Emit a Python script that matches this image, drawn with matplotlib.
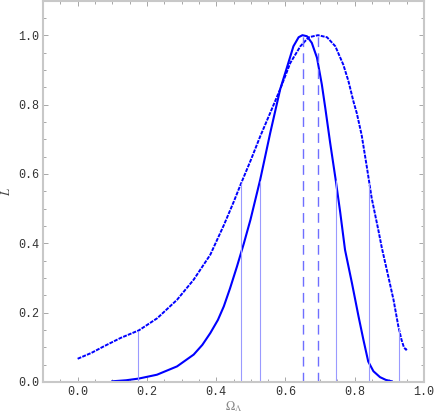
import numpy as np
import matplotlib
matplotlib.use("Agg")
import matplotlib.pyplot as plt
from matplotlib.ticker import MultipleLocator

# broad likelihood (dashed curve)
x_broad = [0.0, 0.04, 0.076, 0.124, 0.177, 0.23, 0.287, 0.335, 0.383, 0.422,
           0.45, 0.47, 0.50, 0.527, 0.556, 0.585, 0.614, 0.643, 0.667, 0.694,
           0.72, 0.744, 0.767, 0.782, 0.796, 0.806, 0.820, 0.835, 0.849, 0.868,
           0.878, 0.897, 0.912, 0.926, 0.935, 0.942, 0.948, 0.953]
L_broad = [0.067, 0.084, 0.103, 0.127, 0.149, 0.184, 0.237, 0.295, 0.367, 0.452,
           0.518, 0.568, 0.640, 0.708, 0.776, 0.845, 0.92, 0.968, 0.994, 1.0,
           0.994, 0.968, 0.915, 0.867, 0.81, 0.775, 0.712, 0.62, 0.53, 0.439,
           0.388, 0.304, 0.237, 0.16, 0.122, 0.1, 0.093, 0.097]

# narrow likelihood (solid curve)
x_narrow = [0.1, 0.14, 0.177, 0.229, 0.287, 0.335, 0.36, 0.383, 0.405, 0.422,
            0.44, 0.46, 0.48, 0.499, 0.527, 0.556, 0.585, 0.604, 0.623, 0.638,
            0.649, 0.662, 0.676, 0.691, 0.705, 0.715, 0.729, 0.745, 0.758, 0.772,
            0.792, 0.811, 0.825, 0.839, 0.854, 0.873, 0.89, 0.907]
L_narrow = [0.002, 0.005, 0.01, 0.021, 0.045, 0.079, 0.107, 0.141, 0.179, 0.218,
            0.27, 0.333, 0.40, 0.468, 0.583, 0.718, 0.845, 0.906, 0.968, 0.994,
            1.0, 0.997, 0.978, 0.935, 0.858, 0.79, 0.69, 0.583, 0.49, 0.381,
            0.285, 0.189, 0.122, 0.059, 0.031, 0.014, 0.006, 0.002]

# interval bounds and peaks
bounds_broad = [0.173, 0.472, 0.842, 0.927]
bounds_narrow = [0.526, 0.745]
peaks = [0.650, 0.693]
tick_vals = [0.0, 0.2, 0.4, 0.6, 0.8, 1.0]
tick_text = ["0.0", "0.2", "0.4", "0.6", "0.8", "1.0"]

plt.rcParams["font.family"] = ["Liberation Mono", "DejaVu Sans Mono"]
plt.rcParams["mathtext.fontset"] = "stix"

fig = plt.figure(figsize=(4.36, 4.17), dpi=100)
ax = fig.add_axes([43 / 436, 35 / 417, 381 / 436, 381.5 / 417])

blue = "#0000ff"
ax.plot(x_narrow, L_narrow, color=blue, lw=1.5, solid_joinstyle="round")
ax.plot(x_broad, L_broad, color=blue, lw=1.4, linestyle=(0, (2.0, 0.6)))

for xb in bounds_broad:
    ax.vlines(xb, 0, np.interp(xb, x_broad, L_broad), color="#9a9aff", lw=0.8)
for xb in bounds_narrow:
    ax.vlines(xb, 0, np.interp(xb, x_narrow, L_narrow), color="#9a9aff", lw=0.8)
for xp in peaks:
    ax.vlines(xp, 0, 1.0, color="#6f6fff", lw=1.0, linestyles=[(0, (7, 4.5))])

ax.set_xlim(-0.1, 1.0)
ax.set_ylim(0, 1.1)
ax.xaxis.set_minor_locator(MultipleLocator(0.05))
ax.yaxis.set_minor_locator(MultipleLocator(0.05))
ax.set_xticks(tick_vals)
ax.set_xticklabels(tick_text, fontfamily="Liberation Mono")
ax.set_yticks(tick_vals)
ax.set_yticklabels(tick_text, fontfamily="Liberation Mono")

ax.tick_params(which="both", direction="in", top=True, right=True,
               color="#999999", width=0.6, labelsize=8.5, labelcolor="#333333")
ax.tick_params(which="major", length=3.5, pad=3)
ax.tick_params(which="minor", length=2)

for sp in ax.spines.values():
    sp.set_color("#c8c8c8")
    sp.set_linewidth(1.5)

ax.set_xlabel(r"$\Omega_\Lambda$", color="#888888", fontsize=9)
ax.set_ylabel(r"$L$", color="#444444", fontsize=9)
ax.xaxis.set_label_coords(0.5, -0.044)
ax.yaxis.set_label_coords(-0.078, 0.5)

fig.savefig("out.png", dpi=100)
